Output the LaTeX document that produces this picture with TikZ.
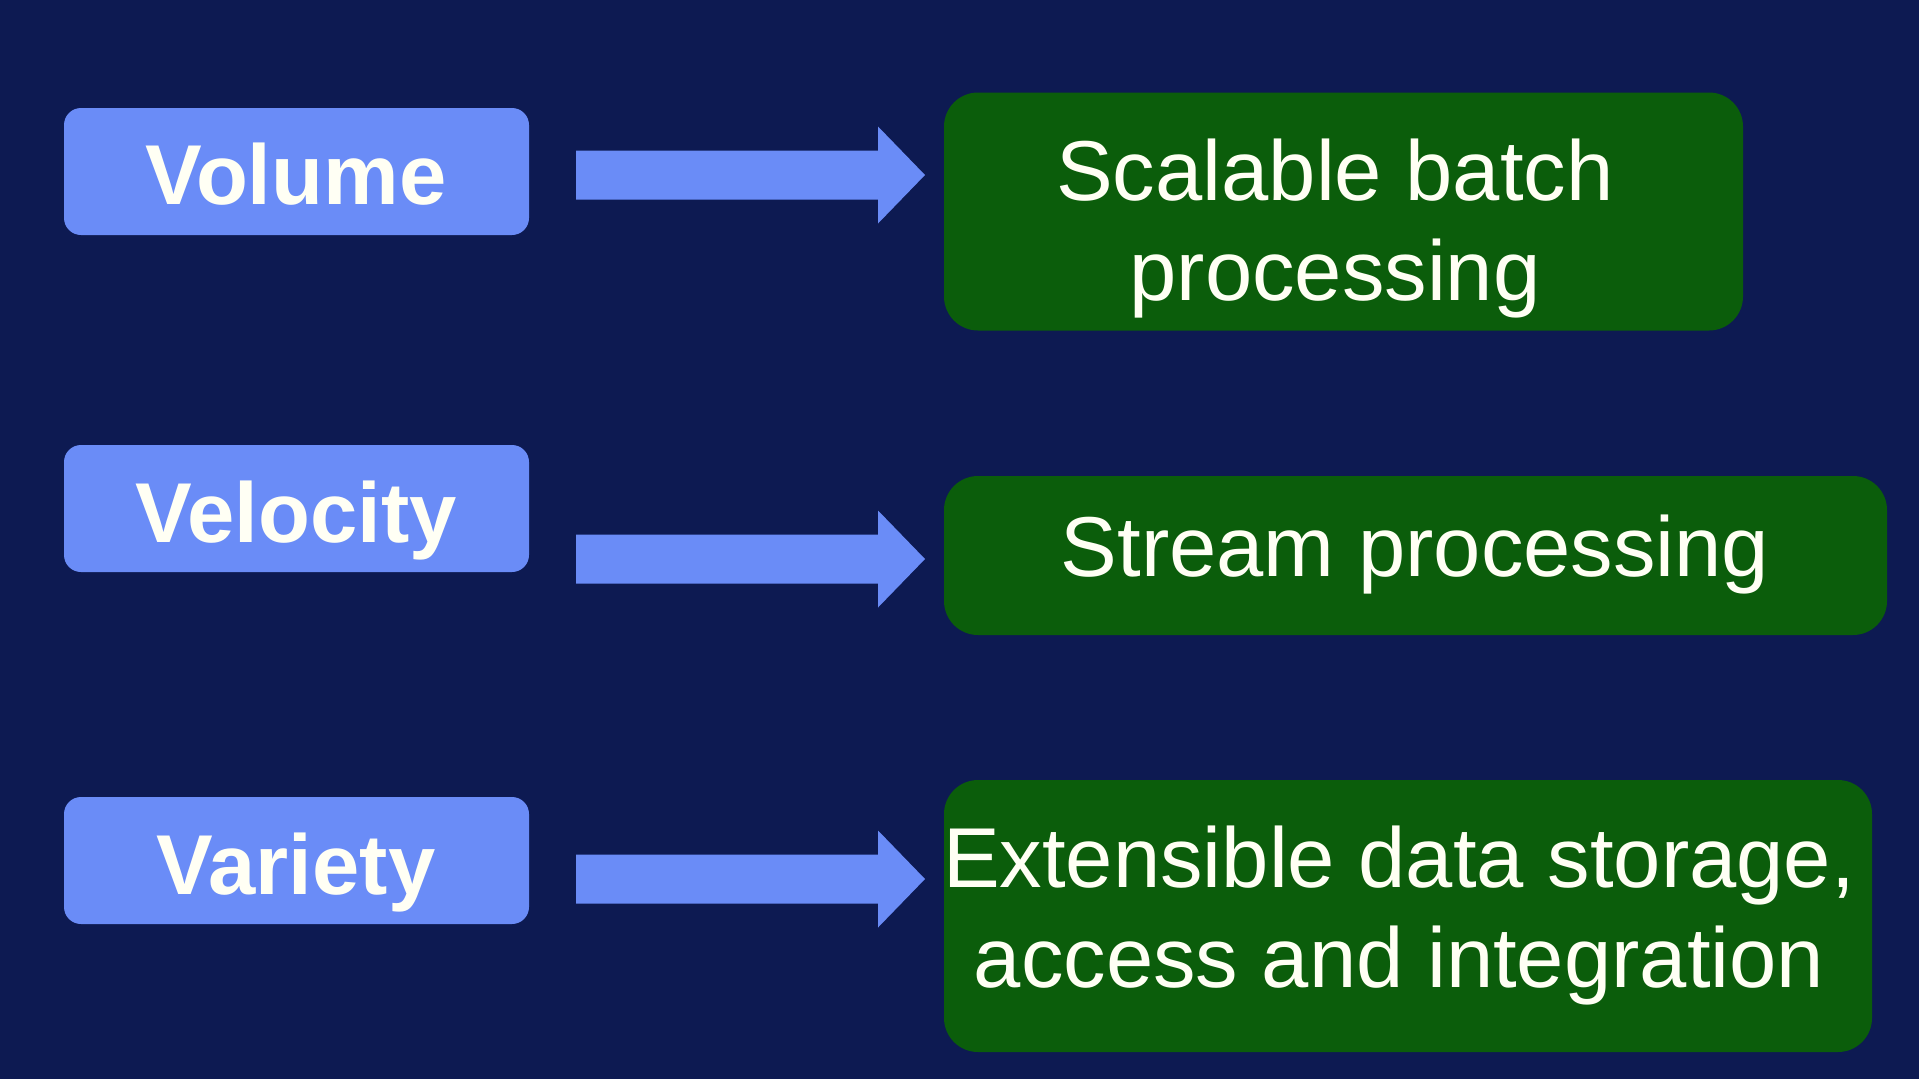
\documentclass[tikz,border=0pt]{standalone}
\usepackage{fontspec}
\setmainfont{Liberation Sans}
\usetikzlibrary{calc}
\definecolor{bgnavy}{HTML}{0D1A52}
\definecolor{boxblue}{HTML}{6A8CF7}
\definecolor{boxgreen}{HTML}{0B5D0B}
\definecolor{txtwhite}{HTML}{FFFFF4}
\tikzset{
  srcbox/.style={rectangle, rounded corners=17pt, fill=boxblue, draw=none,
    minimum width=465pt, minimum height=127pt, inner sep=0pt},
  dstbox/.style={rectangle, rounded corners=34pt, fill=boxgreen, draw=none, inner sep=0pt},
  srclabel/.style={anchor=base, text=txtwhite, inner sep=0pt,
    font=\fontsize{85}{95}\selectfont\bfseries},
  dstlabel/.style={anchor=base, text=txtwhite, inner sep=0pt,
    font=\fontsize{85}{100}\selectfont},
  blockarrow/.style={fill=boxblue, draw=none}
}
\newcommand{\blockarr}[2]{%
  \fill[blockarrow] ($(#1)+(0,-24.5)$) -- ($(#2)+(-47,-24.5)$) -- ($(#2)+(-47,-48.5)$)
    -- (#2) -- ($(#2)+(-47,48.5)$) -- ($(#2)+(-47,24.5)$) -- ($(#1)+(0,24.5)$) -- cycle;}
\begin{document}
\begin{tikzpicture}[x=1pt,y=-1pt]
\fill[bgnavy] (0,0) rectangle (1919,1079);
\useasboundingbox (0,0) rectangle (1919,1079);

% left boxes
\node[srcbox] (vol) at (296.5,171.5) {};
\node[srcbox] (vel) at (296.5,508.5) {};
\node[srcbox] (var) at (296.5,860.5) {};
\node[srclabel] (voltxt) at (296,204) {Volume};
\node[srclabel] (veltxt) at (296,542) {Velocity};
\node[srclabel] (vartxt) at (296,894) {Variety};

% right boxes
\node[dstbox, minimum width=799pt, minimum height=238pt] (batch) at (1343.5,211.5) {};
\node[dstbox, minimum width=943pt, minimum height=159pt] (stream) at (1415.5,555.5) {};
\node[dstbox, minimum width=928pt, minimum height=272pt] (store) at (1408,916) {};
\node[dstlabel] (batchtxt) at (1335,200)
  {\begin{tabular}[t]{@{}c@{}}Scalable batch\\processing\end{tabular}};
\node[dstlabel] (streamtxt) at (1415,576) {Stream processing};
\node[dstlabel] (storetxt) at (1399,887)
  {\begin{tabular}[t]{@{}c@{}}Extensible data storage,\\access and integration\end{tabular}};

% arrows
\coordinate (a1s) at (576,175);
\coordinate (a1e) at (925,175);
\coordinate (a2s) at (576,559);
\coordinate (a2e) at (925,559);
\coordinate (a3s) at (576,879);
\coordinate (a3e) at (925,879);
\blockarr{a1s}{a1e}
\blockarr{a2s}{a2e}
\blockarr{a3s}{a3e}
\end{tikzpicture}
\end{document}
